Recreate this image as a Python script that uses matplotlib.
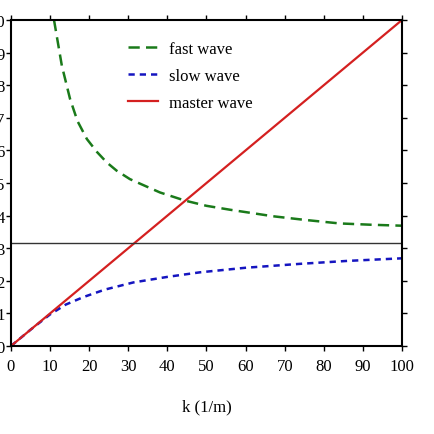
import matplotlib
matplotlib.use("Agg")
import matplotlib.pyplot as plt

plt.rcParams['font.family'] = ['Liberation Serif', 'DejaVu Serif']

# data
k_fast = [11.0, 13, 15.1, 17, 19.4, 22, 24.5, 27, 30.4, 33, 38.1, 44.5, 50, 56, 67, 75, 84, 92, 100]
w_fast = [10.0, 8.6, 7.58, 6.9, 6.35, 5.95, 5.63, 5.38, 5.12, 4.98, 4.71, 4.46, 4.30, 4.18, 3.98, 3.87, 3.76, 3.72, 3.69]

k_slow = [0, 5, 10, 14, 18.5, 24, 31.3, 40, 48.3, 60, 73.9, 86, 100]
w_slow = [0, 0.5, 0.97, 1.27, 1.5, 1.73, 1.95, 2.12, 2.26, 2.4, 2.52, 2.61, 2.69]

k_master = [0, 100]
w_master = [0, 10]

w_cut = 3.162
x_ticks = list(range(0, 101, 10))
y_ticks = list(range(0, 11))

fig = plt.figure(figsize=(4.35, 4.35), dpi=100)
ax = fig.add_axes([11/435, 88/435, 391/435, 326/435])

ax.plot(k_fast, w_fast, color='#1a7a1a', lw=1.8, dashes=(4.5, 2.5), label='fast wave')
ax.plot(k_slow, w_slow, color='#1515c0', lw=1.8, dashes=(2.5, 2), label='slow wave')
ax.plot(k_master, w_master, color='#d42020', lw=1.6, label='master wave')
ax.axhline(w_cut, color='#333333', lw=1.0)

ax.set_xlim(0, 100)
ax.set_ylim(0, 10)
ax.set_xticks(x_ticks)
ax.set_yticks(y_ticks)
ax.tick_params(direction='out', length=3.5, width=1.0, labelsize=12,
               top=True, right=True, labeltop=False, labelright=False, colors='black')
ax.tick_params(axis='x', pad=5)
ax.tick_params(axis='y', pad=1)
for s in ax.spines.values():
    s.set_linewidth(1.5)

ax.set_xlabel('k (1/m)', fontsize=12, labelpad=18)

ax.legend(loc='upper left', bbox_to_anchor=(0.262, 0.982), frameon=False, fontsize=12,
          handlelength=1.8, handletextpad=0.65, labelspacing=0.65)

fig.savefig('out.png', dpi=100)
